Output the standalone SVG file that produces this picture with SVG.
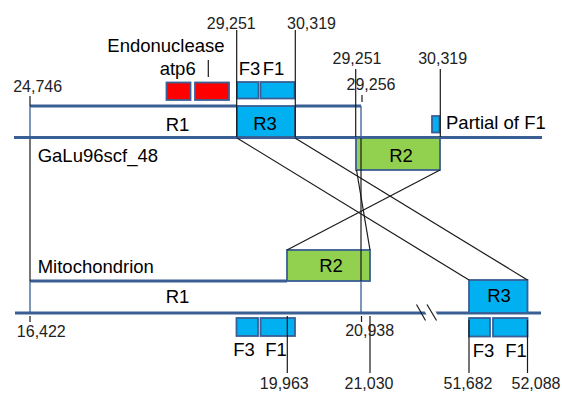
<svg xmlns="http://www.w3.org/2000/svg" width="562" height="393" viewBox="0 0 562 393">
<style>
  text { font-family: "Liberation Sans", Arial, sans-serif; fill: #000; }
  .lbl { font-size: 18.5px; }
  .num { font-size: 16px; fill: #222; text-anchor: middle; }
  .mid { text-anchor: middle; }
  .axis { stroke: #3a5f94; stroke-width: 3; fill: none; }
  .edge { stroke: #3a5f94; stroke-width: 1.3; fill: none; }
  .rbox { stroke: #3a5f94; stroke-width: 1.8; }
  .blue { fill: #00b0f0; }
  .green { fill: #92d050; }
  .red { fill: #ff0000; }
  .conn { stroke: #1a1a1a; stroke-width: 1.2; fill: none; }
</style>

<g id="top-sequence">
  <line class="axis" x1="14" y1="137.5" x2="542" y2="137.5"/>
  <line class="axis" x1="30" y1="106" x2="237" y2="106"/>
  <line class="axis" x1="295" y1="106" x2="361" y2="106"/>
  <line class="edge" x1="361" y1="106" x2="361" y2="137"/>
  <text class="lbl" x="37.7" y="162.3">GaLu96scf_48</text>
</g>

<g id="top-R1">
  <text class="lbl mid" x="177.5" y="131">R1</text>
</g>

<g id="top-R3">
  <rect class="rbox blue" x="237" y="106" width="58" height="31"/>
  <text class="lbl mid" x="265" y="130">R3</text>
</g>

<g id="top-R2">
  <rect class="rbox green" x="356" y="138" width="84" height="32"/>
  <text class="lbl mid" x="401" y="162">R2</text>
</g>

<g id="genes-top">
  <rect class="rbox red" x="166.5" y="82.5" width="24" height="17.5"/>
  <rect class="rbox red" x="195" y="82.5" width="34" height="17.5"/>
  <line class="conn" x1="208.3" y1="60" x2="208.3" y2="77"/>
  <text class="lbl" x="107.3" y="52.3">Endonuclease</text>
  <text class="lbl mid" x="177.7" y="75">atp6</text>
  <rect class="rbox blue" x="237" y="82" width="21.5" height="16.5"/>
  <rect class="rbox blue" x="260.5" y="82" width="34" height="16.5"/>
  <text class="lbl mid" x="249.5" y="75">F3</text>
  <text class="lbl mid" x="273.5" y="75">F1</text>
</g>

<g id="partial-F1">
  <rect class="rbox blue" x="432" y="116" width="7.5" height="16.5"/>
  <text class="lbl" x="446" y="129.3">Partial of F1</text>
</g>

<g id="bottom-sequence">
  <line class="axis" x1="15" y1="313" x2="541" y2="313"/>
  <polygon points="421,304 431.7,304 441,322 430.3,322" fill="#fff"/>
  <line class="conn" x1="416.5" y1="304.5" x2="425.5" y2="320.5" stroke-width="1.6"/>
  <line class="conn" x1="427" y1="304.5" x2="436.5" y2="320.5" stroke-width="1.6"/>
  <line class="axis" x1="30" y1="281" x2="287" y2="281"/>
  <line class="edge" x1="30" y1="281" x2="30" y2="313"/>
  <line class="edge" x1="361" y1="281" x2="361" y2="313"/>
  <text class="lbl" x="37.7" y="272.7">Mitochondrion</text>
</g>

<g id="bottom-R1">
  <text class="lbl mid" x="177.5" y="303.3">R1</text>
</g>

<g id="bottom-R2">
  <rect class="rbox green" x="287" y="250" width="83" height="31"/>
  <text class="lbl mid" x="331" y="272.3">R2</text>
</g>

<g id="bottom-R3">
  <rect class="rbox blue" x="469" y="280" width="58.5" height="33"/>
  <text class="lbl mid" x="499" y="302.3">R3</text>
</g>

<g id="genes-bottom-left">
  <rect class="rbox blue" x="236.5" y="318" width="21.5" height="18"/>
  <rect class="rbox blue" x="260.5" y="318" width="34.5" height="18"/>
  <text class="lbl mid" x="244" y="355.7">F3</text>
  <text class="lbl mid" x="276" y="355.7">F1</text>
</g>

<g id="genes-bottom-right">
  <rect class="rbox blue" x="469" y="318" width="21" height="18.5"/>
  <rect class="rbox blue" x="493" y="318" width="34.5" height="18.5"/>
  <text class="lbl mid" x="483.5" y="356.5">F3</text>
  <text class="lbl mid" x="516" y="356.5">F1</text>
</g>

<g id="connectors">
  <line class="conn" x1="30" y1="96" x2="30" y2="106" stroke="#444"/>
  <line class="edge" x1="30" y1="106" x2="30" y2="137"/>
  <line class="conn" x1="30" y1="139" x2="30" y2="281" stroke="#444"/>
  <line class="conn" x1="30" y1="316" x2="30" y2="322" stroke="#444"/>
  <line class="conn" x1="362" y1="95" x2="362" y2="102"/>
  <line class="conn" x1="361" y1="138" x2="361" y2="281"/>
  <line class="conn" x1="361.5" y1="316" x2="361.5" y2="322"/>
  <line class="conn" x1="236.7" y1="30" x2="236.7" y2="137"/>
  <line class="conn" x1="295.3" y1="30" x2="295.3" y2="137"/>
  <line class="conn" x1="355.7" y1="69" x2="355.7" y2="137"/>
  <line class="conn" x1="440.3" y1="69" x2="440.3" y2="137"/>
  <line class="conn" x1="237" y1="138" x2="469" y2="280"/>
  <line class="conn" x1="295" y1="138" x2="527.5" y2="280"/>
  <line class="conn" x1="356.5" y1="170" x2="370" y2="250"/>
  <line class="conn" x1="440" y1="170" x2="287" y2="250"/>
  <line class="conn" x1="287.3" y1="316" x2="287.3" y2="373"/>
  <line class="conn" x1="370" y1="316" x2="370" y2="373"/>
  <line class="conn" x1="469" y1="320" x2="469" y2="373"/>
  <line class="conn" x1="527.5" y1="320" x2="527.5" y2="373"/>
</g>

<g id="coordinates">
  <text class="num" x="37.7" y="91.5">24,746</text>
  <text class="num" x="231.3" y="28.5">29,251</text>
  <text class="num" x="311.5" y="28.5">30,319</text>
  <text class="num" x="357" y="64">29,251</text>
  <text class="num" x="442.7" y="64">30,319</text>
  <text class="num" x="371" y="90">29,256</text>
  <text class="num" x="41.3" y="336.7">16,422</text>
  <text class="num" x="369.7" y="336">20,938</text>
  <text class="num" x="284.3" y="388.5">19,963</text>
  <text class="num" x="369" y="388.5">21,030</text>
  <text class="num" x="468" y="388.5">51,682</text>
  <text class="num" x="536" y="388.5">52,088</text>
</g>
</svg>
